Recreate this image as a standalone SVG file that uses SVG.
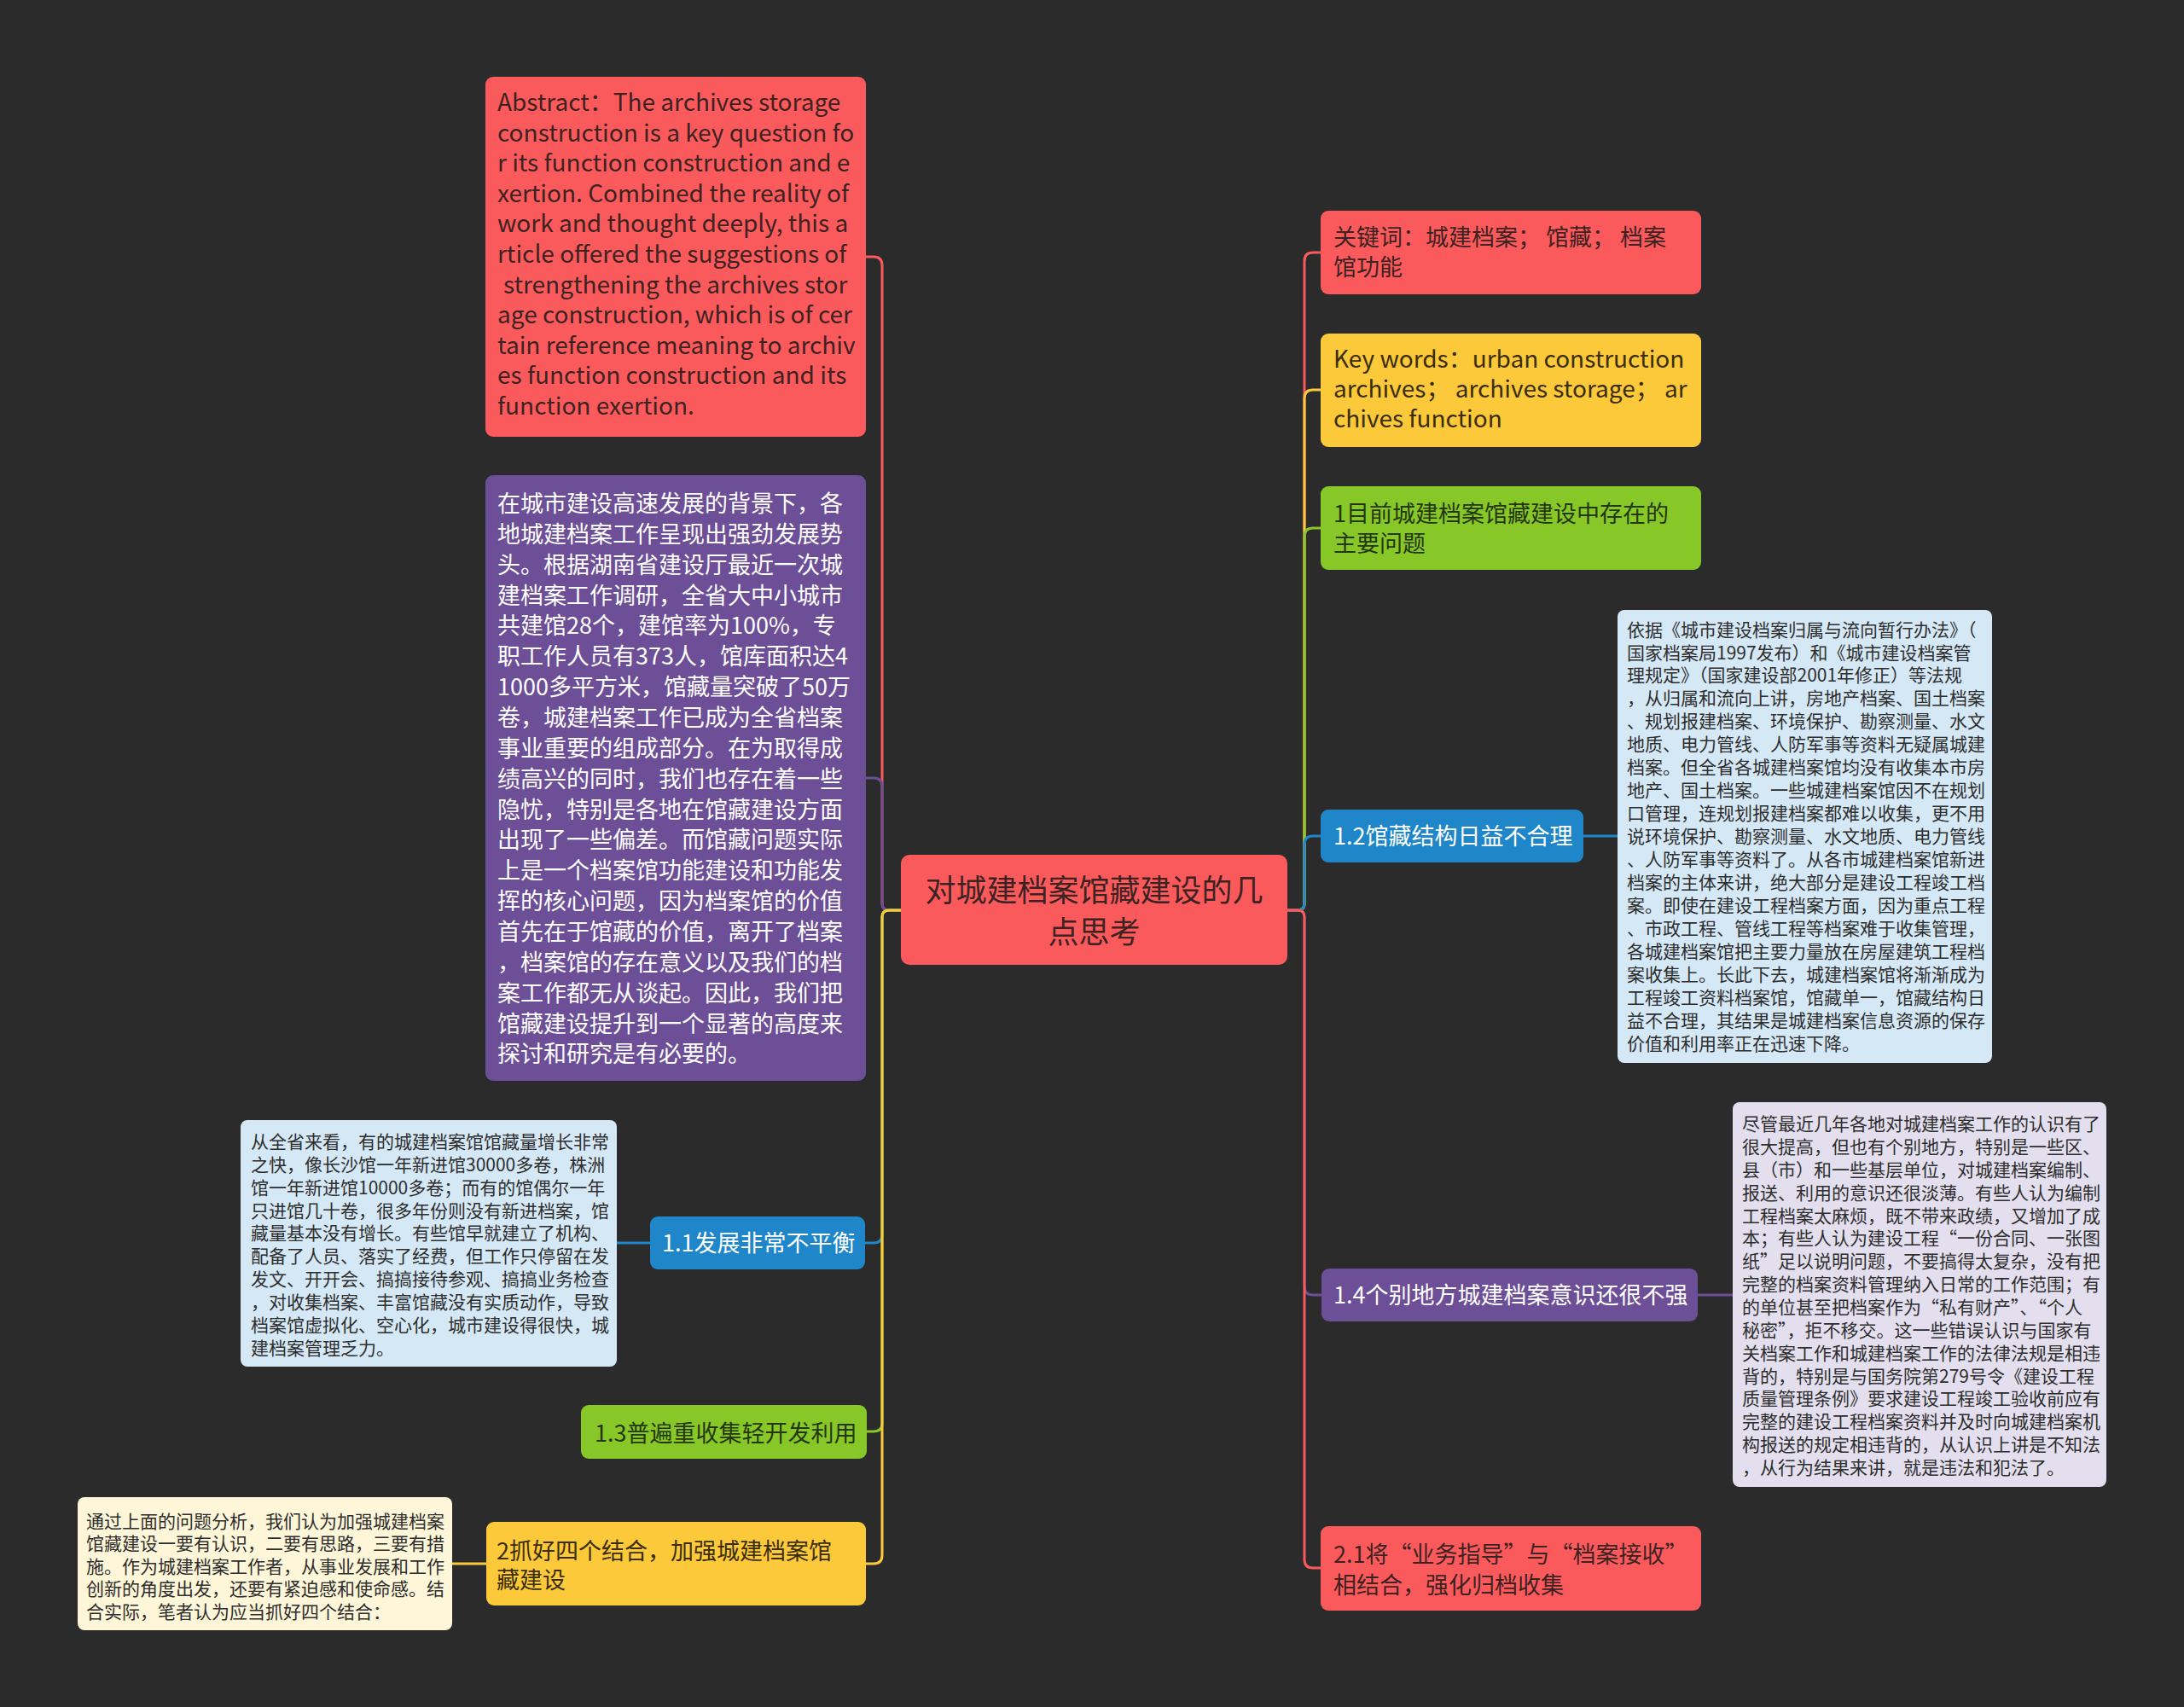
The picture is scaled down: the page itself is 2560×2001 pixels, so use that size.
<svg xmlns="http://www.w3.org/2000/svg" width="2560" height="2001" viewBox="0 0 2560 2001">
<style>
text{font-family:"Noto Sans CJK SC","Noto Sans",sans-serif;}
.m{font-size:27px;}
.l{font-size:28px;}
.s{font-size:21px;fill:#2e2e2e;}
.ti{font-size:36px;fill:#3d2222;}
.dr{fill:#3d2222;}
.dy{fill:#3a2d08;}
.dg{fill:#24360c;}
.w{fill:#ffffff;}
.c{fill:none;stroke-width:3;}
</style>
<rect width="2560" height="2001" fill="#2b2b2b"/>
<g id="connectors">
<path class="c" stroke="#fb5a5c" d="M1056,1067 H1042 Q1034,1067 1034,1059 V311 Q1034,301 1024,301 H1015"/>
<path class="c" stroke="#6c4f96" d="M1056,1067 H1042 Q1034,1067 1034,1059 V922 Q1034,912 1024,912 H1015"/>
<path class="c" stroke="#1e86c9" d="M1056,1067 H1042 Q1034,1067 1034,1075 V1447 Q1034,1457 1024,1457 H1014"/>
<path class="c" stroke="#87c828" d="M1056,1067 H1042 Q1034,1067 1034,1075 V1668 Q1034,1678 1024,1678 H1016"/>
<path class="c" stroke="#fcc93a" d="M1056,1067 H1042 Q1034,1067 1034,1075 V1823 Q1034,1833 1024,1833 H1015"/>
<path class="c" stroke="#fb5a5c" d="M1509,1067 H1521 Q1529,1067 1529,1059 V306 Q1529,296 1539,296 H1548"/>
<path class="c" stroke="#fcc93a" d="M1509,1067 H1521 Q1529,1067 1529,1059 V467 Q1529,457 1539,457 H1548"/>
<path class="c" stroke="#87c828" d="M1509,1067 H1521 Q1529,1067 1529,1059 V629 Q1529,619 1539,619 H1548"/>
<path class="c" stroke="#1e86c9" d="M1509,1067 H1521 Q1529,1067 1529,1059 V990 Q1529,980 1539,980 H1548"/>
<path class="c" stroke="#6c4f96" d="M1509,1067 H1521 Q1529,1067 1529,1075 V1508 Q1529,1518 1539,1518 H1549"/>
<path class="c" stroke="#fb5a5c" d="M1509,1067 H1521 Q1529,1067 1529,1075 V1828 Q1529,1838 1539,1838 H1548"/>
<path class="c" stroke="#1e86c9" d="M762,1457 H723"/>
<path class="c" stroke="#fcc93a" d="M570,1833 H530"/>
<path class="c" stroke="#1e86c9" d="M1856,980 H1896"/>
<path class="c" stroke="#6c4f96" d="M1990,1518 H2031"/>
</g>
<g id="center">
<rect x="1056" y="1002" width="453" height="129" rx="10" fill="#fb5a5c"/>
<text class="ti" text-anchor="middle"><tspan x="1282.5" y="1057">对城建档案馆藏建设的几</tspan><tspan x="1282.5" y="1106">点思考</tspan></text>
</g>
<g id="abstract">
<rect x="569" y="90" width="446" height="422" rx="9" fill="#fb5a5c"/>
<text class="l dr">
<tspan x="583" y="130">Abstract：The archives storage</tspan>
<tspan x="583" y="165.6">construction is a key question fo</tspan>
<tspan x="583" y="201.2">r its function construction and e</tspan>
<tspan x="583" y="236.8">xertion. Combined the reality of</tspan>
<tspan x="583" y="272.4">work and thought deeply, this a</tspan>
<tspan x="583" y="308">rticle offered the suggestions of</tspan>
<tspan x="590" y="343.6">strengthening the archives stor</tspan>
<tspan x="583" y="379.2">age construction, which is of cer</tspan>
<tspan x="583" y="414.8">tain reference meaning to archiv</tspan>
<tspan x="583" y="450.4">es function construction and its</tspan>
<tspan x="583" y="486">function exertion.</tspan>
</text>
</g>
<g id="background-para">
<rect x="569" y="557" width="446" height="710" rx="9" fill="#6c4f96"/>
<text class="m w">
<tspan x="583" y="600">在城市建设高速发展的背景下，各</tspan>
<tspan x="583" y="635.9">地城建档案工作呈现出强劲发展势</tspan>
<tspan x="583" y="671.7">头。根据湖南省建设厅最近一次城</tspan>
<tspan x="583" y="707.6">建档案工作调研，全省大中小城市</tspan>
<tspan x="583" y="743.4">共建馆28个，建馆率为100%，专</tspan>
<tspan x="583" y="779.3">职工作人员有373人，馆库面积达4</tspan>
<tspan x="583" y="815.1">1000多平方米，馆藏量突破了50万</tspan>
<tspan x="583" y="851">卷，城建档案工作已成为全省档案</tspan>
<tspan x="583" y="886.8">事业重要的组成部分。在为取得成</tspan>
<tspan x="583" y="922.7">绩高兴的同时，我们也存在着一些</tspan>
<tspan x="583" y="958.5">隐忧，特别是各地在馆藏建设方面</tspan>
<tspan x="583" y="994.4">出现了一些偏差。而馆藏问题实际</tspan>
<tspan x="583" y="1030.2">上是一个档案馆功能建设和功能发</tspan>
<tspan x="583" y="1066.1">挥的核心问题，因为档案馆的价值</tspan>
<tspan x="583" y="1101.9">首先在于馆藏的价值，离开了档案</tspan>
<tspan x="583" y="1137.8">，档案馆的存在意义以及我们的档</tspan>
<tspan x="583" y="1173.6">案工作都无从谈起。因此，我们把</tspan>
<tspan x="583" y="1209.5">馆藏建设提升到一个显著的高度来</tspan>
<tspan x="583" y="1245.3">探讨和研究是有必要的。</tspan>
</text>
</g>
<g id="n1-1">
<rect x="762" y="1426" width="252" height="62" rx="9" fill="#1e86c9"/>
<text class="m w"><tspan x="776" y="1467">1.1发展非常不平衡</tspan></text>
</g>
<g id="n1-1-detail">
<rect x="282" y="1313" width="441" height="289" rx="8" fill="#d5e8f6"/>
<text class="s">
<tspan x="294" y="1346">从全省来看，有的城建档案馆馆藏量增长非常</tspan>
<tspan x="294" y="1372.9">之快，像长沙馆一年新进馆30000多卷，株洲</tspan>
<tspan x="294" y="1399.7">馆一年新进馆10000多卷；而有的馆偶尔一年</tspan>
<tspan x="294" y="1426.6">只进馆几十卷，很多年份则没有新进档案，馆</tspan>
<tspan x="294" y="1453.4">藏量基本没有增长。有些馆早就建立了机构、</tspan>
<tspan x="294" y="1480.3">配备了人员、落实了经费，但工作只停留在发</tspan>
<tspan x="294" y="1507.1">发文、开开会、搞搞接待参观、搞搞业务检查</tspan>
<tspan x="294" y="1534">，对收集档案、丰富馆藏没有实质动作，导致</tspan>
<tspan x="294" y="1560.8">档案馆虚拟化、空心化，城市建设得很快，城</tspan>
<tspan x="294" y="1587.7">建档案管理乏力。</tspan>
</text>
</g>
<g id="n1-3">
<rect x="681" y="1647" width="335" height="63" rx="9" fill="#87c828"/>
<text class="m dg"><tspan x="697" y="1690">1.3普遍重收集轻开发利用</tspan></text>
</g>
<g id="n2">
<rect x="570" y="1784" width="445" height="98" rx="9" fill="#fcc93a"/>
<text class="m dy"><tspan x="582" y="1828">2抓好四个结合，加强城建档案馆</tspan><tspan x="582" y="1862">藏建设</tspan></text>
</g>
<g id="n2-detail">
<rect x="91" y="1755" width="439" height="156" rx="8" fill="#fef6d8"/>
<text class="s">
<tspan x="101" y="1791">通过上面的问题分析，我们认为加强城建档案</tspan>
<tspan x="101" y="1817.4">馆藏建设一要有认识，二要有思路，三要有措</tspan>
<tspan x="101" y="1843.8">施。作为城建档案工作者，从事业发展和工作</tspan>
<tspan x="101" y="1870.2">创新的角度出发，还要有紧迫感和使命感。结</tspan>
<tspan x="101" y="1896.6">合实际，笔者认为应当抓好四个结合：</tspan>
</text>
</g>
<g id="keywords-cn">
<rect x="1548" y="247" width="446" height="98" rx="9" fill="#fb5a5c"/>
<text class="m dr"><tspan x="1563" y="288">关键词：城建档案； 馆藏； 档案</tspan><tspan x="1563" y="323">馆功能</tspan></text>
</g>
<g id="keywords-en">
<rect x="1548" y="391" width="446" height="133" rx="9" fill="#fcc93a"/>
<text class="l dy"><tspan x="1563" y="431">Key words：urban construction</tspan><tspan x="1563" y="466">archives； archives storage； ar</tspan><tspan x="1563" y="501">chives function</tspan></text>
</g>
<g id="n1">
<rect x="1548" y="570" width="446" height="98" rx="9" fill="#87c828"/>
<text class="m dg"><tspan x="1563" y="612">1目前城建档案馆藏建设中存在的</tspan><tspan x="1563" y="647">主要问题</tspan></text>
</g>
<g id="n1-2">
<rect x="1548" y="949" width="308" height="62" rx="9" fill="#1e86c9"/>
<text class="m w"><tspan x="1563" y="990">1.2馆藏结构日益不合理</tspan></text>
</g>
<g id="n1-2-detail">
<rect x="1896" y="715" width="439" height="531" rx="8" fill="#d5e8f6"/>
<text class="s">
<tspan x="1907" y="745.5">依据《城市建设档案归属与流向暂行办法》（</tspan>
<tspan x="1907" y="772.5">国家档案局1997发布）和《城市建设档案管</tspan>
<tspan x="1907" y="799.4">理规定》（国家建设部2001年修正）等法规</tspan>
<tspan x="1907" y="826.4">，从归属和流向上讲，房地产档案、国土档案</tspan>
<tspan x="1907" y="853.4">、规划报建档案、环境保护、勘察测量、水文</tspan>
<tspan x="1907" y="880.4">地质、电力管线、人防军事等资料无疑属城建</tspan>
<tspan x="1907" y="907.3">档案。但全省各城建档案馆均没有收集本市房</tspan>
<tspan x="1907" y="934.3">地产、国土档案。一些城建档案馆因不在规划</tspan>
<tspan x="1907" y="961.3">口管理，连规划报建档案都难以收集，更不用</tspan>
<tspan x="1907" y="988.2">说环境保护、勘察测量、水文地质、电力管线</tspan>
<tspan x="1907" y="1015.2">、人防军事等资料了。从各市城建档案馆新进</tspan>
<tspan x="1907" y="1042.2">档案的主体来讲，绝大部分是建设工程竣工档</tspan>
<tspan x="1907" y="1069.1">案。即使在建设工程档案方面，因为重点工程</tspan>
<tspan x="1907" y="1096.1">、市政工程、管线工程等档案难于收集管理，</tspan>
<tspan x="1907" y="1123.1">各城建档案馆把主要力量放在房屋建筑工程档</tspan>
<tspan x="1907" y="1150.1">案收集上。长此下去，城建档案馆将渐渐成为</tspan>
<tspan x="1907" y="1177">工程竣工资料档案馆，馆藏单一，馆藏结构日</tspan>
<tspan x="1907" y="1204">益不合理，其结果是城建档案信息资源的保存</tspan>
<tspan x="1907" y="1231">价值和利用率正在迅速下降。</tspan>
</text>
</g>
<g id="n1-4">
<rect x="1549" y="1487" width="441" height="62" rx="9" fill="#6c4f96"/>
<text class="m w"><tspan x="1563" y="1528">1.4个别地方城建档案意识还很不强</tspan></text>
</g>
<g id="n1-4-detail">
<rect x="2031" y="1292" width="438" height="451" rx="8" fill="#e3dfee"/>
<text class="s">
<tspan x="2042" y="1325">尽管最近几年各地对城建档案工作的认识有了</tspan>
<tspan x="2042" y="1351.9">很大提高，但也有个别地方，特别是一些区、</tspan>
<tspan x="2042" y="1378.7">县（市）和一些基层单位，对城建档案编制、</tspan>
<tspan x="2042" y="1405.6">报送、利用的意识还很淡薄。有些人认为编制</tspan>
<tspan x="2042" y="1432.5">工程档案太麻烦，既不带来政绩，又增加了成</tspan>
<tspan x="2042" y="1459.4">本；有些人认为建设工程“一份合同、一张图</tspan>
<tspan x="2042" y="1486.2">纸”足以说明问题，不要搞得太复杂，没有把</tspan>
<tspan x="2042" y="1513.1">完整的档案资料管理纳入日常的工作范围；有</tspan>
<tspan x="2042" y="1540">的单位甚至把档案作为“私有财产”、“个人</tspan>
<tspan x="2042" y="1566.8">秘密”，拒不移交。这一些错误认识与国家有</tspan>
<tspan x="2042" y="1593.7">关档案工作和城建档案工作的法律法规是相违</tspan>
<tspan x="2042" y="1620.6">背的，特别是与国务院第279号令《建设工程</tspan>
<tspan x="2042" y="1647.4">质量管理条例》要求建设工程竣工验收前应有</tspan>
<tspan x="2042" y="1674.3">完整的建设工程档案资料并及时向城建档案机</tspan>
<tspan x="2042" y="1701.2">构报送的规定相违背的，从认识上讲是不知法</tspan>
<tspan x="2042" y="1728.1">，从行为结果来讲，就是违法和犯法了。</tspan>
</text>
</g>
<g id="n2-1">
<rect x="1548" y="1789" width="446" height="99" rx="9" fill="#fb5a5c"/>
<text class="m dr"><tspan x="1563" y="1832">2.1将“业务指导”与“档案接收”</tspan><tspan x="1563" y="1868">相结合，强化归档收集</tspan></text>
</g>
</svg>
